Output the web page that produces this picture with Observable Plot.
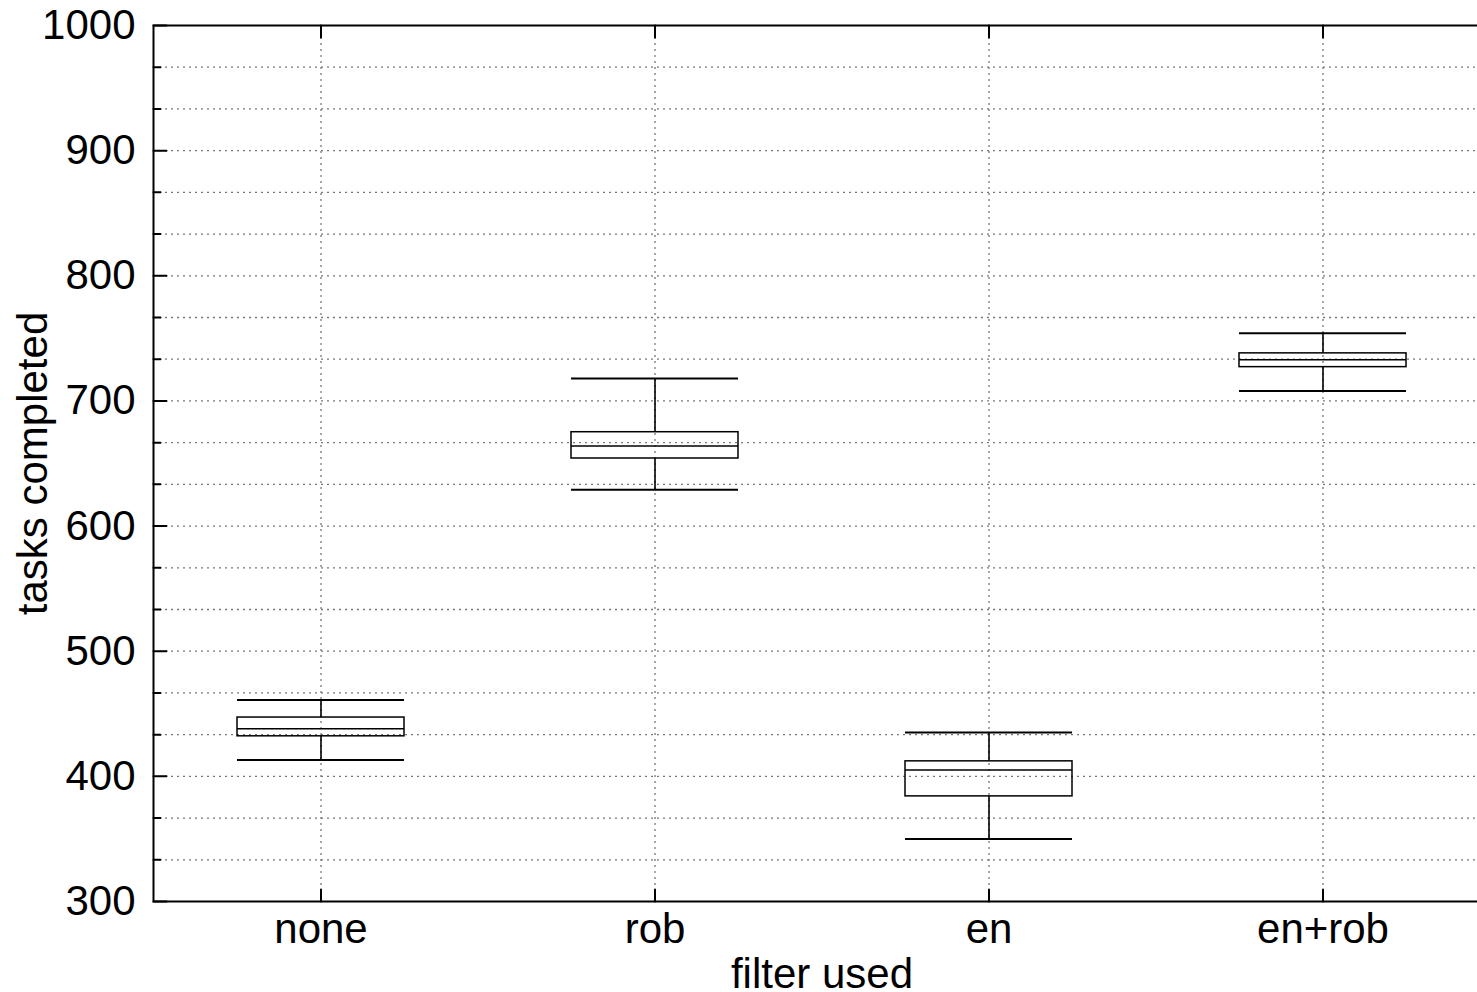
<!DOCTYPE html>
<html><head><meta charset="utf-8">
<script src="https://cdn.jsdelivr.net/npm/d3@7"></script>
<script src="https://cdn.jsdelivr.net/npm/@observablehq/plot@0.6"></script>
<style>html,body{margin:0;padding:0;background:#fff;overflow:hidden;}</style>
</head><body><div id="chart"></div>
<script>
const categories = ["none", "rob", "en", "en+rob"];
const whiskerLow  = [413, 629, 350, 708];
const q1          = [432, 654, 384, 727];
const median      = [438, 664, 405, 733];
const q3          = [447, 675, 412, 738];
const whiskerHigh = [461, 718, 435, 754];
const yTickLabels = [300, 400, 500, 600, 700, 800, 900, 1000];

const data = categories.map((c, i) => ({
  cat: c, lo: whiskerLow[i], q1: q1[i], med: median[i], q3: q3[i], hi: whiskerHigh[i]
}));

const gridY = d3.range(1, 21).map(i => 300 + i * 100 / 3);
const minorY = gridY.filter((d, i) => (i + 1) % 3 !== 0);
const tickShape = {draw(ctx, l) { ctx.moveTo(0, 0); ctx.lineTo(0, -l); }};
const FONT = 42;
const dotted = {stroke: "#777", strokeWidth: 1.3, strokeDasharray: "2,4"};

const chart = Plot.plot({
  width: 1490,
  height: 992,
  marginLeft: 153,
  marginRight: 0,
  marginTop: 25,
  marginBottom: 91,
  style: {maxWidth: "none", fontFamily: "'Liberation Sans', Arial, sans-serif", fontSize: FONT + "px", background: "white", color: "black"},
  x: {type: "band", domain: categories, paddingInner: 0.5, paddingOuter: 0.25, label: null},
  y: {domain: [300, 1000], label: null},
  marks: [
    Plot.ruleY(gridY, {y: d => d, ...dotted}),
    Plot.ruleX(categories, {x: d => d, ...dotted}),
    Plot.ruleX(data, {x: "cat", y1: "q3", y2: "hi", stroke: "black", strokeWidth: 1.6}),
    Plot.ruleX(data, {x: "cat", y1: "lo", y2: "q1", stroke: "black", strokeWidth: 1.6}),
    Plot.barY(data, {x: "cat", y1: "q1", y2: "q3", fill: "none", stroke: "black", strokeWidth: 1.5}),
    Plot.tickY(data, {x: "cat", y: "med", stroke: "black", strokeWidth: 1.5}),
    Plot.tickY(data, {x: "cat", y: "hi", stroke: "black", strokeWidth: 2}),
    Plot.tickY(data, {x: "cat", y: "lo", stroke: "black", strokeWidth: 2}),
    Plot.vector(yTickLabels, {y: d => d, frameAnchor: "left", rotate: 90, length: 13, anchor: "start", shape: tickShape, stroke: "black", strokeWidth: 2}),
    Plot.vector(minorY, {y: d => d, frameAnchor: "left", rotate: 90, length: 7, anchor: "start", shape: tickShape, stroke: "black", strokeWidth: 2}),
    Plot.vector(categories, {x: d => d, frameAnchor: "bottom", rotate: 0, length: 12, anchor: "start", shape: tickShape, stroke: "black", strokeWidth: 2}),
    Plot.vector(categories, {x: d => d, frameAnchor: "top", rotate: 180, length: 12, anchor: "start", shape: tickShape, stroke: "black", strokeWidth: 2}),
    Plot.axisY({ticks: yTickLabels, tickSize: 0, tickPadding: 18, fontSize: FONT, label: null, tickFormat: d => String(d)}),
    Plot.axisX({tickSize: 0, tickPadding: 12, fontSize: FONT, label: null}),
    Plot.frame({stroke: "black", strokeWidth: 2}),
    Plot.text(["tasks completed"], {text: d => d, frameAnchor: "left", textAnchor: "middle", lineAnchor: "middle", rotate: -90, dx: -120, fontSize: FONT, fill: "black"}),
    Plot.text(["filter used"], {text: d => d, frameAnchor: "bottom", textAnchor: "middle", lineAnchor: "middle", dy: 73, fontSize: FONT, fill: "black"})
  ]
});
document.getElementById("chart").appendChild(chart);
</script>
</body></html>
